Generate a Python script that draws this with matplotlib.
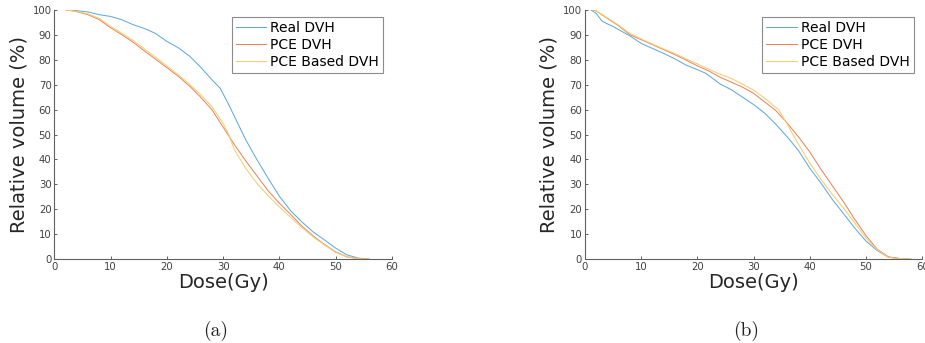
import matplotlib
matplotlib.use("Agg")
import matplotlib.pyplot as plt

# ---------------- data: panel (a) ----------------
a_real_x = [2, 4, 6, 8, 10, 12, 14, 16, 18, 20, 22, 24, 26, 28, 29.5, 31, 32.5, 34, 36, 38, 40, 42, 44, 46, 48, 50, 52, 54, 56]
a_real_y = [100, 99.6, 99.1, 98, 97.3, 96, 94, 92.5, 90.5, 87.3, 84.8, 81.5, 77, 72, 68.5, 62, 55, 48, 40, 32.5, 25.3, 19.5, 15, 11, 7.8, 4.5, 1.8, 0.5, 0]

a_pce_x = [2, 4, 6, 8, 10, 12, 14, 16, 18, 20, 22, 24, 26, 28, 30, 32, 34, 36, 38, 40, 42, 44, 46, 48, 50, 52, 54, 56]
a_pce_y = [100, 99.2, 98, 96, 92.8, 90, 87, 83.5, 80.2, 76.8, 73.4, 69.5, 65, 60, 53, 46, 39.5, 33.5, 27.5, 22.5, 18, 13.3, 9.4, 6, 3, 1, 0.3, 0]

a_based_x = [2, 4, 6, 8, 10, 12, 14, 16, 18, 20, 22, 24, 26, 28, 30, 31, 32, 34, 36, 38, 40, 42, 44, 46, 48, 50, 52, 54, 56]
a_based_y = [100, 99.3, 98.3, 96.5, 93.3, 90.6, 87.7, 84.3, 81, 77.5, 74, 70.2, 66, 61.2, 54.5, 50, 44, 36.5, 30.5, 25.5, 21, 16.8, 12.8, 9, 5.8, 2.8, 1, 0.3, 0]

# ---------------- data: panel (b) ----------------
b_real_x = [1, 2, 3, 4, 5, 6, 8, 10, 12, 14, 16, 18, 20, 21.5, 23, 24, 26, 28, 30, 32, 34, 36, 38, 40, 42, 44, 46, 48, 50, 52, 54, 56, 58]
b_real_y = [100, 98.5, 95.5, 94.3, 93.3, 92, 89.5, 86.5, 84.5, 82.5, 80.3, 77.8, 76, 74.5, 72, 70.3, 68, 65, 62, 58.5, 54, 49, 43.5, 36.5, 30.5, 24, 18.3, 12.5, 7.3, 3.5, 0.8, 0.3, 0]

b_pce_x = [1.2, 2, 3, 4, 6, 8, 10, 12, 14, 16, 18, 20, 22, 24, 26, 28, 30, 32, 34, 36, 38, 40, 42, 44, 46, 48, 50, 52, 54, 56, 58]
b_pce_y = [100, 99.5, 98, 96.5, 93.5, 90, 88, 86, 84, 82, 79.8, 77.5, 75.5, 73, 71, 69, 66.5, 63, 59.5, 54.5, 49, 43, 36, 29.5, 23, 16, 9.5, 4, 1, 0.3, 0]

b_based_x = [1.5, 2, 3, 4, 6, 8, 10, 12, 14, 16, 18, 20, 22, 24, 26, 28, 30, 32, 34.5, 36, 38, 40, 42, 44, 46, 48, 50, 52, 54, 56, 58]
b_based_y = [100, 99.5, 98.2, 96.7, 93.8, 90.5, 88.3, 86.2, 84.3, 82.4, 80.3, 78.3, 76.2, 74.2, 72.5, 70.2, 67.8, 64.5, 59.8, 54, 46, 38.5, 32, 26, 20.5, 14.5, 8.5, 3.8, 0.8, 0.3, 0]

labels = ["Real DVH", "PCE DVH", "PCE Based DVH"]
colors = ["#62aadd", "#e8875f", "#f5cc72"]
xticks = [0, 10, 20, 30, 40, 50, 60]
yticks = [0, 10, 20, 30, 40, 50, 60, 70, 80, 90, 100]
captions = ["(a)", "(b)"]

fig = plt.figure(figsize=(9.25, 3.43), dpi=100)
axes_pos = [[0.0587, 0.244, 0.3649, 0.7277], [0.6324, 0.244, 0.3646, 0.7277]]
panels = [
    [(a_real_x, a_real_y), (a_pce_x, a_pce_y), (a_based_x, a_based_y)],
    [(b_real_x, b_real_y), (b_pce_x, b_pce_y), (b_based_x, b_based_y)],
]
axis_col = "#606060"
for i, (pos, series) in enumerate(zip(axes_pos, panels)):
    ax = fig.add_axes(pos)
    for (xs, ys), lab, c in zip(series, labels, colors):
        ax.plot(xs, ys, color=c, lw=0.75, label=lab)
    ax.set_xlim(0, 60)
    ax.set_ylim(0, 100)
    ax.set_xticks(xticks)
    ax.set_yticks(yticks)
    for s in ["top", "right"]:
        ax.spines[s].set_visible(False)
    for s in ["left", "bottom"]:
        ax.spines[s].set_color(axis_col)
        ax.spines[s].set_linewidth(0.8)
    ax.tick_params(direction="in", length=2.5, width=0.7, colors=axis_col,
                   labelsize=7.3, labelcolor="#404040", pad=2)
    ax.set_xlabel("Dose(Gy)", fontsize=14, color="#262626", labelpad=1)
    ax.set_ylabel("Relative volume (%)", fontsize=14, color="#262626", labelpad=3)
    leg = ax.legend(loc="upper right", bbox_to_anchor=(0.975, 0.971), borderaxespad=0,
                    fontsize=10, frameon=True, fancybox=False, framealpha=1,
                    edgecolor="#8c8c8c", handlelength=2.2, handletextpad=0.3,
                    labelspacing=0.2, borderpad=0.3)
    leg.get_frame().set_linewidth(0.8)
    cx = pos[0] + pos[2] / 2 - 0.008
    fig.text(cx, 0.036, captions[i], ha="center", va="center", fontsize=14,
             family="cmr10", color="#222222")

fig.savefig("out.png", dpi=100)
